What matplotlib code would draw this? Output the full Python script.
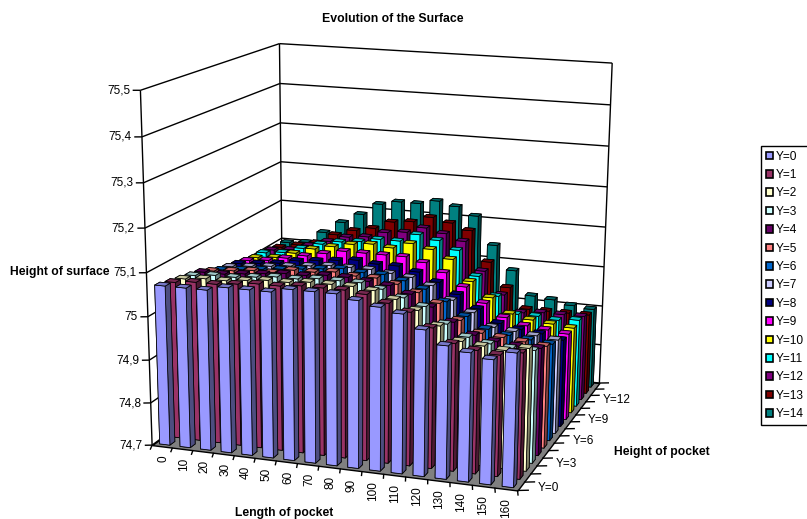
import numpy as np
import matplotlib
matplotlib.use("Agg")
import matplotlib.pyplot as plt
from matplotlib.axes import Axes
from matplotlib.patches import Patch
from mpl_toolkits.mplot3d.art3d import Poly3DCollection, Line3DCollection

plt.rcParams["font.family"] = ["Liberation Sans", "DejaVu Sans"]

lengths = [0, 10, 20, 30, 40, 50, 60, 70, 80, 90, 100, 110, 120, 130, 140, 150, 160]
series = ["Y=0", "Y=1", "Y=2", "Y=3", "Y=4", "Y=5", "Y=6", "Y=7", "Y=8", "Y=9", "Y=10", "Y=11", "Y=12", "Y=13", "Y=14"]
colors = ["#9999FF", "#993366", "#FFFFCC", "#CCFFFF", "#660066", "#FF8080", "#0066CC", "#CCCCFF",
          "#000080", "#FF00FF", "#FFFF00", "#00FFFF", "#800080", "#800000", "#008080"]
ticks_z = [74.7, 74.8, 74.9, 75.0, 75.1, 75.2, 75.3, 75.4, 75.5]
tick_labels_z = ["74,7", "74,8", "74,9", "75", "75,1", "75,2", "75,3", "75,4", "75,5"]

y0 = [75.07, 75.07, 75.07, 75.08, 75.08, 75.08, 75.09, 75.09, 75.09, 75.08, 75.07, 75.06, 75.03, 75.0, 74.99, 74.98, 75.0]
y1 = [75.065, 75.07, 75.07, 75.075, 75.08, 75.08, 75.085, 75.085, 75.085, 75.08, 75.065, 75.05, 75.02, 74.99, 74.98, 74.975, 74.985]
y2 = [75.06, 75.065, 75.065, 75.07, 75.075, 75.075, 75.08, 75.08, 75.08, 75.075, 75.06, 75.04, 75.01, 74.98, 74.975, 74.97, 74.98]
y3 = [75.055, 75.06, 75.06, 75.065, 75.07, 75.07, 75.075, 75.075, 75.075, 75.065, 75.05, 75.035, 75.0, 74.975, 74.965, 74.96, 74.96]
y4 = [75.05, 75.05, 75.055, 75.06, 75.065, 75.065, 75.07, 75.07, 75.065, 75.06, 75.045, 75.02, 74.99, 74.965, 74.955, 74.95, 74.95]
y5 = [75.04, 75.045, 75.05, 75.05, 75.06, 75.06, 75.065, 75.06, 75.06, 75.05, 75.035, 75.015, 74.98, 74.955, 74.95, 74.945, 74.94]
y6 = [75.03, 75.035, 75.04, 75.045, 75.05, 75.055, 75.06, 75.055, 75.055, 75.045, 75.03, 75.005, 74.975, 74.95, 74.94, 74.935, 74.93]
y7 = [75.025, 75.03, 75.035, 75.04, 75.045, 75.05, 75.05, 75.05, 75.045, 75.04, 75.025, 74.995, 74.97, 74.94, 74.935, 74.93, 74.925]
y8 = [75.02, 75.025, 75.03, 75.04, 75.045, 75.05, 75.055, 75.05, 75.05, 75.04, 75.02, 74.995, 74.965, 74.935, 74.925, 74.92, 74.91]
y9 = [75.015, 75.02, 75.03, 75.04, 75.05, 75.06, 75.06, 75.06, 75.06, 75.05, 75.03, 75.0, 74.965, 74.935, 74.92, 74.915, 74.91]
y10 = [75.01, 75.015, 75.03, 75.045, 75.055, 75.065, 75.07, 75.065, 75.08, 75.07, 75.05, 75.0, 74.965, 74.93, 74.92, 74.915, 74.91]
y11 = [75.01, 75.015, 75.03, 75.045, 75.055, 75.06, 75.07, 75.07, 75.09, 75.08, 75.06, 75.0, 74.955, 74.915, 74.915, 74.91, 74.915]
y12 = [75.005, 75.01, 75.025, 75.04, 75.055, 75.06, 75.075, 75.08, 75.095, 75.085, 75.07, 75.0, 74.945, 74.905, 74.91, 74.91, 74.91]
y13 = [75.0, 75.01, 75.02, 75.045, 75.06, 75.07, 75.09, 75.095, 75.11, 75.10, 75.085, 75.01, 74.95, 74.90, 74.90, 74.90, 74.90]
y14 = [75.0, 75.005, 75.035, 75.065, 75.09, 75.12, 75.13, 75.13, 75.14, 75.13, 75.11, 75.04, 74.98, 74.92, 74.915, 74.905, 74.90]
heights = [y0, y1, y2, y3, y4, y5, y6, y7, y8, y9, y10, y11, y12, y13, y14]


def darker(c, f):
    r, g, b = matplotlib.colors.to_rgb(c)
    return (r * f, g * f, b * f)


W, H = 807, 519
nx, ny = len(lengths), len(series)
zmin, zmax = ticks_z[0], ticks_z[-1]

# excel style camera: fit a projection to where the box corners sit in the picture
corners = [((0, 0, zmin), (153, 443)), ((nx, 0, zmin), (517, 493)), ((nx, ny, zmin), (600, 380)),
           ((0, ny, zmin), (282, 352)), ((0, 0, zmax), (140, 90)), ((0, ny, zmax), (280, 43)),
           ((nx, ny, zmax), (612, 64))]
A, b = [], []
for (x, y, z), (u, v) in corners:
    p = [x / nx, y / ny, (z - zmin) / (zmax - zmin), 1]
    A.append(p + [0, 0, 0, 0] + [-u * q for q in p[:3]])
    A.append([0, 0, 0, 0] + p + [-v * q for q in p[:3]])
    b += [u, v]
sol = np.linalg.lstsq(np.array(A), np.array(b, dtype=float), rcond=None)[0]
P = np.array([sol[:4], sol[4:8], [*sol[8:11], 1.0]])
T = np.array([[1 / nx, 0, 0, 0], [0, 1 / ny, 0, 0], [0, 0, 1 / (zmax - zmin), -zmin / (zmax - zmin)], [0, 0, 0, 1]])
P = P @ T
M = np.array([P[0], P[1], [0, 0, 0, -1.0], P[2]])


def to_px(x, y, z):
    u, v, w = P @ [x, y, z, 1]
    return u / w, v / w


fig = plt.figure(figsize=(W / 100, H / 100), dpi=100)
off = (W - H) / 2
ax = fig.add_axes([0, -off / H, 1, W / H], projection="3d", computed_zorder=False)
ax.set_axis_off()
ax.patch.set_visible(False)
ax.get_proj = lambda: M

lw = 1.0
fs = 8.5
bold_fs = 8.7
# floor
floor = [[(0, 0, zmin), (nx, 0, zmin), (nx, ny, zmin), (0, ny, zmin)]]
ax.add_collection3d(Poly3DCollection(floor, facecolor="#808080", edgecolor="black", linewidth=lw, zorder=0))

# walls, grid and ticks
segs = []
for z in ticks_z:
    segs.append([(0, 0, z), (0, ny, z)])
    segs.append([(0, ny, z), (nx, ny, z)])
    segs.append([(-0.3, -0.12, z), (0, 0, z)])
for x, y in [(0, 0), (0, ny), (nx, ny)]:
    segs.append([(x, y, zmin), (x, y, zmax)])
for i in range(nx + 1):
    segs.append([(i, 0, zmin), (i + 0.18, -0.55, zmin)])
for j in range(ny + 1):
    segs.append([(nx, j, zmin), (nx + 0.45, j + 0.18, zmin)])
ax.add_collection3d(Line3DCollection(segs, colors="black", linewidths=lw, zorder=1))

for z, lab in zip(ticks_z, tick_labels_z):
    u, v = to_px(-0.4, -0.16, z)
    Axes.text(ax, u, v, lab, ha="right", va="center", fontsize=fs, zorder=5)
for i, lab in enumerate(lengths):
    u, v = to_px(i + 1.05 - 0.018 * i, -0.95, zmin)
    Axes.text(ax, u, v, str(lab), rotation=90, ha="center", va="top", fontsize=fs, zorder=5)
for j in range(0, ny, 3):
    u, v = to_px(nx + 0.75, j + 0.55, zmin)
    Axes.text(ax, u, v, series[j], ha="left", va="center", fontsize=fs, zorder=5)

# bars
bw, bd = 0.5, 0.5
xs, ys, dzs, face = [], [], [], []
for j, row in enumerate(heights):
    for i, v in enumerate(row):
        xs.append(i + 0.5 - bw / 2)
        ys.append(j + 0.5 - bd / 2)
        dzs.append(v - zmin)
        c = colors[j]
        # order of faces in bar3d: bottom, top, front, back, left, right
        face += [darker(c, 0.5), darker(c, 0.78), c, c, darker(c, 0.5), darker(c, 0.5)]
ax.bar3d(xs, ys, [zmin] * len(xs), bw, bd, dzs, color=face, shade=False, edgecolor="black", linewidth=0.55, zorder=3)

ax.set_xlim(0, nx)
ax.set_ylim(0, ny)
ax.set_zlim(zmin, zmax)
ax.viewLim.intervalx = (0, W)
ax.viewLim.intervaly = (H + off, -off)

fig.text(393 / W, 1 - 19 / H, "Evolution of the Surface", ha="center", va="center", fontsize=8.8, fontweight="bold")
fig.text(59.5 / W, 1 - 272 / H, "Height of surface", ha="center", va="center", fontsize=bold_fs, fontweight="bold")
fig.text(284 / W, 1 - 513 / H, "Length of pocket", ha="center", va="center", fontsize=bold_fs, fontweight="bold")
fig.text(662 / W, 1 - 452 / H, "Height of pocket", ha="center", va="center", fontsize=bold_fs, fontweight="bold")

handles = [Patch(facecolor=c, edgecolor="black", linewidth=1.2, label=s) for c, s in zip(colors, series)]
fig.legend(handles=handles, loc="upper left", bbox_to_anchor=(761 / W, 1 - 146 / H), fontsize=8.6,
           fancybox=False, edgecolor="black", framealpha=1, borderpad=0.39, labelspacing=0.535,
           handlelength=0.59, handleheight=0.6, handletextpad=0.25, borderaxespad=0)

fig.savefig("out.png", dpi=100)
